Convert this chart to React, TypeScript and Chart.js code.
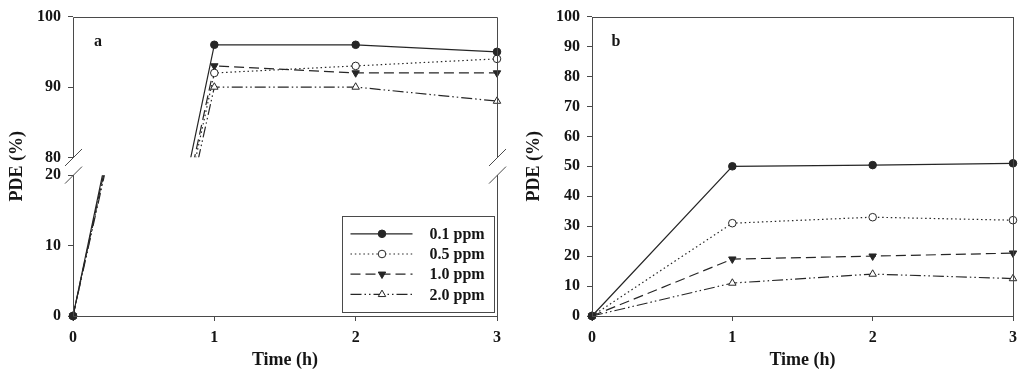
import { useEffect, useRef } from 'react';
import { Chart, registerables } from 'chart.js';
Chart.register(...registerables);

// ---------- data ----------
const times = [0, 1, 2, 3];
const seriesNames = ['0.1 ppm', '0.5 ppm', '1.0 ppm', '2.0 ppm'];
const panelA_01 = [0, 96, 96, 95];
const panelA_05 = [0, 92, 93, 94];
const panelA_10 = [0, 93, 92, 92];
const panelA_20 = [0, 90, 90, 88];
const panelB_01 = [0, 50, 50.4, 51];
const panelB_05 = [0, 31, 33, 32];
const panelB_10 = [0, 19, 20, 21];
const panelB_20 = [0, 11, 14, 12.5];
const xTickValues = [0, 1, 2, 3];
const aLowerTicks = [0, 10, 20];
const aUpperTicks = [80, 90, 100];
const bTicks = [0, 10, 20, 30, 40, 50, 60, 70, 80, 90, 100];
const panelLabels = ['a', 'b'];
const yTitle = 'PDE (%)';
const xTitle = 'Time (h)';

// ---------- styles ----------
const INK = '#262626';
const FRAME = '#4a4a4a';
const TEXT = '#151515';
const FAMILY = '"Liberation Serif", "Times New Roman", serif';
const tickFont = { family: FAMILY, size: 16, weight: 'bold' as const };
const titleFont = { family: FAMILY, size: 18, weight: 'bold' as const };

const styles = [
  { dash: [] as number[], pointStyle: 'circle', rotation: 0, fill: INK, radius: 3.8 },
  { dash: [1.5, 2.8], pointStyle: 'circle', rotation: 0, fill: '#ffffff', radius: 3.8 },
  { dash: [10, 5], pointStyle: 'triangle', rotation: 180, fill: INK, radius: 4.3 },
  { dash: [11, 3, 1.5, 3, 1.5, 3], pointStyle: 'triangle', rotation: 0, fill: '#ffffff', radius: 4.3 },
];

const toPts = (vals: number[]) => times.map((t, i) => ({ x: t, y: vals[i] }));

const dsStyle = (i: number) => ({
  borderColor: INK,
  borderWidth: 1.2,
  borderDash: styles[i].dash,
  pointStyle: styles[i].pointStyle,
  pointRotation: styles[i].rotation,
  pointRadius: styles[i].radius,
  pointBackgroundColor: styles[i].fill,
  pointBorderColor: INK,
  pointBorderWidth: 1,
  tension: 0,
  fill: false,
});

const setTicks = (vals: number[]) => (s: any) => {
  s.ticks = vals.map((v) => ({ value: v }));
};

const gridOpts = {
  display: true,
  drawOnChartArea: false,
  drawTicks: true,
  tickLength: 5,
  color: FRAME,
  tickColor: FRAME,
  tickWidth: 1,
};

const xScale = () => ({
  type: 'linear' as const,
  min: 0,
  max: 3,
  afterBuildTicks: setTicks(xTickValues),
  afterFit: (s: any) => {
    s.height = 68;
  },
  grid: gridOpts,
  border: { display: false },
  ticks: { font: tickFont, color: TEXT, padding: 7, maxRotation: 0, autoSkip: false },
  title: { display: true, text: xTitle, font: titleFont, color: TEXT, padding: { top: 0, bottom: 13 } },
});

function drawMarker(ctx: CanvasRenderingContext2D, i: number, x: number, y: number) {
  const st = styles[i];
  ctx.save();
  ctx.setLineDash([]);
  ctx.lineWidth = 1;
  ctx.strokeStyle = INK;
  ctx.fillStyle = st.fill;
  ctx.beginPath();
  if (st.pointStyle === 'circle') {
    ctx.arc(x, y, st.radius, 0, Math.PI * 2);
  } else {
    const r = st.radius;
    let rad = (st.rotation * Math.PI) / 180;
    for (let k = 0; k < 3; k++) {
      const px = x + Math.sin(rad) * r;
      const py = y - Math.cos(rad) * r;
      if (k === 0) ctx.moveTo(px, py);
      else ctx.lineTo(px, py);
      rad += (2 * Math.PI) / 3;
    }
    ctx.closePath();
  }
  ctx.fill();
  ctx.stroke();
  ctx.restore();
}

export default function App() {
  const refA = useRef<HTMLCanvasElement>(null);
  const refB = useRef<HTMLCanvasElement>(null);

  useEffect(() => {
    const seriesA = [panelA_01, panelA_05, panelA_10, panelA_20];
    const seriesB = [panelB_01, panelB_05, panelB_10, panelB_20];
    const lowMax = 21.25;
    const highMin = 78.75;
    const gapClip = 9;

    const datasetsA: any[] = [];
    seriesA.forEach((vals, i) => {
      datasetsA.push({
        label: seriesNames[i],
        data: toPts(vals),
        yAxisID: 'yHigh',
        clip: { left: 12, right: 12, top: 12, bottom: -gapClip },
        ...dsStyle(i),
      });
      datasetsA.push({
        label: seriesNames[i] + ' (low)',
        data: toPts(vals),
        yAxisID: 'yLow',
        clip: { left: 12, right: 12, top: -gapClip, bottom: 12 },
        ...dsStyle(i),
      });
    });

    const yAxisA = (min: number, max: number, ticks: number[]) => ({
      type: 'linear' as const,
      position: 'left' as const,
      stack: 'ya',
      stackWeight: 1,
      min,
      max,
      afterBuildTicks: setTicks(ticks),
      afterFit: (s: any) => {
        s.width = 73;
      },
      grid: gridOpts,
      border: { display: false },
      ticks: { font: tickFont, color: TEXT, padding: 7, autoSkip: false },
    });

    const decorA = {
      id: 'decorA',
      afterDraw(chart: any) {
        const { ctx, chartArea } = chart;
        const { left, right, top, bottom } = chartArea;
        const yH = chart.scales.yHigh;
        const yL = chart.scales.yLow;
        const y80 = yH.getPixelForValue(aUpperTicks[0]);
        const y20 = yL.getPixelForValue(aLowerTicks[aLowerTicks.length - 1]);
        const L = Math.round(left) + 0.5;
        const R = Math.round(right) + 0.5;
        const T = Math.round(top) + 0.5;
        const B = Math.round(bottom) + 0.5;
        ctx.save();
        ctx.strokeStyle = FRAME;
        ctx.lineWidth = 1;
        ctx.beginPath();
        ctx.moveTo(L, T);
        ctx.lineTo(R, T);
        ctx.moveTo(L, B);
        ctx.lineTo(R, B);
        for (const x of [L, R]) {
          ctx.moveTo(x, T);
          ctx.lineTo(x, y80);
          ctx.moveTo(x, y20);
          ctx.lineTo(x, B);
          for (const y of [y80, y20]) {
            ctx.moveTo(x - 8.5, y + 8.5);
            ctx.lineTo(x + 8.5, y - 8.5);
          }
        }
        ctx.stroke();

        // y title
        ctx.fillStyle = TEXT;
        ctx.font = `bold 18px ${FAMILY}`;
        ctx.save();
        ctx.translate(17, (top + bottom) / 2);
        ctx.rotate(-Math.PI / 2);
        ctx.textAlign = 'center';
        ctx.textBaseline = 'middle';
        ctx.fillText(yTitle, 0, 0);
        ctx.restore();

        // panel label
        ctx.font = `bold 16px ${FAMILY}`;
        ctx.textAlign = 'center';
        ctx.textBaseline = 'middle';
        ctx.fillText(panelLabels[0], left + 25, top + 25);

        // legend
        const bx = Math.round(right - 155) + 0.5;
        const by = Math.round(bottom - 100) + 0.5;
        const bw = 152;
        const bh = 96;
        ctx.fillStyle = '#ffffff';
        ctx.fillRect(bx, by, bw, bh);
        ctx.strokeStyle = FRAME;
        ctx.strokeRect(bx, by, bw, bh);
        seriesNames.forEach((name, i) => {
          const y = by + 17.3 + i * 20.2;
          ctx.save();
          ctx.strokeStyle = INK;
          ctx.lineWidth = 1.2;
          ctx.setLineDash(styles[i].dash);
          ctx.beginPath();
          ctx.moveTo(bx + 8, y);
          ctx.lineTo(bx + 70, y);
          ctx.stroke();
          ctx.restore();
          drawMarker(ctx, i, bx + 39.5, y);
          ctx.fillStyle = TEXT;
          ctx.font = `bold 16px ${FAMILY}`;
          ctx.textAlign = 'left';
          ctx.textBaseline = 'middle';
          ctx.fillText(name, bx + 87, y + 1);
        });
        ctx.restore();
      },
    };

    const chartA = new Chart(refA.current!, {
      type: 'line',
      data: { datasets: datasetsA },
      options: {
        responsive: false,
        animation: false,
        devicePixelRatio: 1,
        layout: { padding: { top: 11, right: 15, left: 0, bottom: 0 } },
        plugins: { legend: { display: false }, tooltip: { enabled: false } },
        scales: {
          x: xScale(),
          yLow: yAxisA(0, lowMax, aLowerTicks),
          yHigh: yAxisA(highMin, 100, aUpperTicks),
        } as any,
      },
      plugins: [decorA],
    } as any);

    const decorB = {
      id: 'decorB',
      afterDraw(chart: any) {
        const { ctx, chartArea } = chart;
        const { left, right, top, bottom } = chartArea;
        ctx.save();
        ctx.strokeStyle = FRAME;
        ctx.lineWidth = 1;
        ctx.strokeRect(
          Math.round(left) + 0.5,
          Math.round(top) + 0.5,
          Math.round(right) - Math.round(left),
          Math.round(bottom) - Math.round(top)
        );
        ctx.fillStyle = TEXT;
        ctx.font = `bold 16px ${FAMILY}`;
        ctx.textAlign = 'center';
        ctx.textBaseline = 'middle';
        ctx.fillText(panelLabels[1], left + 24, top + 25);
        ctx.restore();
      },
    };

    const chartB = new Chart(refB.current!, {
      type: 'line',
      data: {
        datasets: seriesB.map((vals, i) => ({
          label: seriesNames[i],
          data: toPts(vals),
          clip: 12,
          ...dsStyle(i),
        })),
      },
      options: {
        responsive: false,
        animation: false,
        devicePixelRatio: 1,
        layout: { padding: { top: 11, right: 9, left: 0, bottom: 0 } },
        plugins: { legend: { display: false }, tooltip: { enabled: false } },
        scales: {
          x: xScale(),
          y: {
            type: 'linear',
            position: 'left',
            min: 0,
            max: 100,
            afterBuildTicks: setTicks(bTicks),
            afterFit: (s: any) => {
              s.width = 80;
            },
            grid: gridOpts,
            border: { display: false },
            ticks: { font: tickFont, color: TEXT, padding: 7, autoSkip: false },
            title: { display: true, text: yTitle, font: titleFont, color: TEXT, padding: { top: 12, bottom: 0 } },
          },
        } as any,
      },
      plugins: [decorB],
    } as any);

    return () => {
      chartA.destroy();
      chartB.destroy();
    };
  }, []);

  return (
    <div style={{ position: 'fixed', left: 0, top: 0, width: 1024, height: 384, background: '#ffffff' }}>
      <canvas
        ref={refA}
        width={512}
        height={384}
        style={{ position: 'absolute', left: 0, top: 0, width: 512, height: 384 }}
      />
      <canvas
        ref={refB}
        width={512}
        height={384}
        style={{ position: 'absolute', left: 512, top: 0, width: 512, height: 384 }}
      />
    </div>
  );
}
